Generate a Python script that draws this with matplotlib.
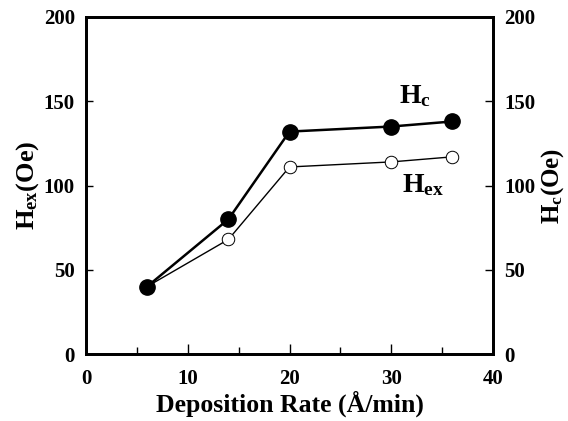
import matplotlib
matplotlib.use("Agg")
import matplotlib.pyplot as plt
from matplotlib.ticker import MultipleLocator

plt.rcParams['font.family'] = ['Liberation Serif', 'DejaVu Serif']
plt.rcParams['font.weight'] = 'bold'
plt.rcParams['mathtext.fontset'] = 'custom'
plt.rcParams['mathtext.rm'] = 'Liberation Serif:bold'
plt.rcParams['mathtext.bf'] = 'Liberation Serif:bold'

# deposition rate (A/min)
rate = [6, 14, 20, 30, 36]
# coercivity and exchange field (Oe)
hc = [40, 80, 132, 135, 138]
hex_ = [40, 68, 111, 114, 117]

fig = plt.figure(figsize=(5.68, 4.21), dpi=100)
ax = fig.add_axes([86/568, 1-354/421, (493-86)/568, (354-17)/421])

ax.plot(rate, hex_, color='black', lw=1.0, marker='o', ms=9, mfc='white',
        mec='black', mew=0.7, zorder=2)
ax.plot(rate, hc, color='black', lw=1.8, marker='o', ms=11, mfc='black',
        mec='black', zorder=3)

ax.set_xlim(0, 40)
ax.set_ylim(0, 200)
ax.xaxis.set_major_locator(MultipleLocator(10))
ax.xaxis.set_minor_locator(MultipleLocator(5))
ax.yaxis.set_major_locator(MultipleLocator(50))
ax.tick_params(axis='both', which='both', direction='in', labelsize=15, width=1.0)
ax.tick_params(axis='x', which='major', length=7, pad=11)
ax.tick_params(axis='x', which='minor', length=5)
ax.tick_params(axis='y', length=5, pad=8)
for s in ax.spines.values():
    s.set_linewidth(2)

ax.set_xlabel('Deposition Rate (Å/min)', fontsize=18.5, fontweight='bold', labelpad=1)
ax.set_ylabel(r'$\mathrm{H_{ex}}$(Oe)', fontsize=19, fontweight='bold', labelpad=2)

ax2 = ax.twinx()
ax2.set_ylim(0, 200)
ax2.yaxis.set_major_locator(MultipleLocator(50))
ax2.tick_params(axis='y', direction='in', labelsize=15, length=6, width=1.0, pad=8)
ax2.set_ylabel(r'$\mathrm{H_{c}}$(Oe)', fontsize=18, fontweight='bold', labelpad=3,
               rotation=90)
for s in ax2.spines.values():
    s.set_linewidth(2)

ax.text(30.8, 149, r'$\mathrm{H_{c}}$', fontsize=20, ha='left', va='baseline')
ax.text(31.06, 96, r'$\mathrm{H_{ex}}$', fontsize=20, ha='left', va='baseline')

fig.savefig('out.png', dpi=100)
